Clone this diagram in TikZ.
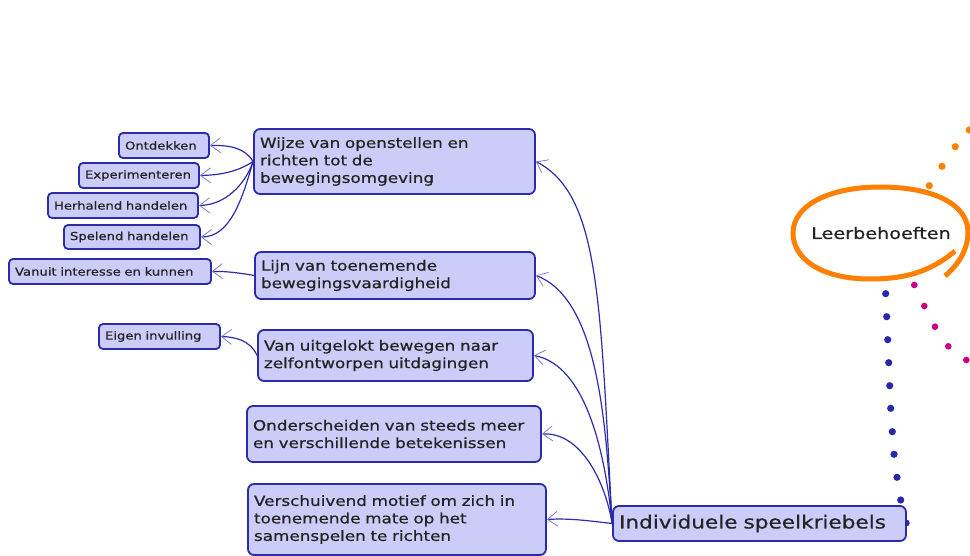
\documentclass[tikz,border=0pt]{standalone}
\usepackage{fontspec}
\setmainfont{DejaVu Sans}[FakeStretch=1.2,FakeBold=0.6]
\usetikzlibrary{arrows.meta}

\definecolor{boxfill}{RGB}{204,204,248}
\definecolor{boxline}{RGB}{44,44,170}
\definecolor{tipcol}{RGB}{125,125,215}
\definecolor{dotblue}{RGB}{40,40,170}
\definecolor{dotpink}{RGB}{200,0,130}
\definecolor{dotorange}{RGB}{255,128,0}
\definecolor{txt}{RGB}{35,35,35}

\tikzset{
  topic/.style={draw=boxline, fill=boxfill, line width=1.8pt, rounded corners=6pt, text=txt,
    align=left, inner xsep=6pt, inner ysep=3pt, font=\fontsize{14}{17.5}\selectfont},
  leaf/.style={topic, rounded corners=4pt, font=\fontsize{11}{13}\selectfont},
  link/.style={draw=boxline, line width=1.2pt,
    -{Straight Barb[length=10pt,width=15pt,line width=0.8pt,color=tipcol]}},
  bdot/.style={fill=dotblue},
  pdot/.style={fill=dotpink},
  odot/.style={fill=dotorange}
}

\begin{document}
\begin{tikzpicture}[x=1pt,y=1pt,yscale=-1,xscale=1]
\useasboundingbox (0,0) rectangle (970,556);

%Shape: Dots blue
\fill[bdot] (885.7,293.7) circle (3.6);
\fill[bdot] (886.7,316.7) circle (3.6);
\fill[bdot] (887.7,339.7) circle (3.6);
\fill[bdot] (888.7,362.7) circle (3.6);
\fill[bdot] (889.7,385.7) circle (3.6);
\fill[bdot] (890.7,408.3) circle (3.6);
\fill[bdot] (892.3,431.7) circle (3.6);
\fill[bdot] (894,454.3) circle (3.6);
\fill[bdot] (897,477.3) circle (3.6);
\fill[bdot] (900.7,500) circle (3.6);
\fill[bdot] (906,523) circle (3.6);
%Shape: Dots magenta
\fill[pdot] (914.3,285) circle (3.3);
\fill[pdot] (924.3,306) circle (3.3);
\fill[pdot] (935,326.7) circle (3.3);
\fill[pdot] (948.3,346.3) circle (3.3);
\fill[pdot] (966.3,360) circle (3.3);
%Shape: Dots orange
\fill[odot] (929.3,185.7) circle (3.6);
\fill[odot] (942,166.3) circle (3.6);
\fill[odot] (955.3,146.7) circle (3.6);
\fill[odot] (969.3,130) circle (3.6);

%Shape: Hand drawn ellipse
\draw[dotorange, line width=5pt] (955,251) .. controls (930,272) and (905,279) .. (870,279)
  .. controls (820,279) and (793,258) .. (793,233)
  .. controls (793,205) and (830,187) .. (880,187)
  .. controls (935,187) and (968,205) .. (968,232)
  .. controls (968,250) and (958,265) .. (945,276);

% Text Node
\node[text=txt, font=\fontsize{16}{19}\selectfont] (leer) at (881,233) {Leerbehoeften};

% Main topics
\node[topic, text width=269pt, minimum height=65pt] (wijze) at (394.5,161.5) {Wijze van openstellen en\\richten tot de\\bewegingsomgeving};
\node[topic, text width=268pt, minimum height=47pt] (lijn) at (395,275.5) {Lijn van toenemende\\bewegingsvaardigheid};
\node[topic, text width=263pt, minimum height=51pt] (uitgelokt) at (395.5,355.5) {Van uitgelokt bewegen naar\\zelfontworpen uitdagingen};
\node[topic, text width=282pt, minimum height=56pt] (betekenis) at (394,434) {Onderscheiden van steeds meer\\en verschillende betekenissen};
\node[topic, text width=286pt, minimum height=71pt] (motief) at (397,519.5) {Verschuivend motief om zich in\\toenemende mate op het\\samenspelen te richten};
\node[topic, text width=281pt, minimum height=35pt, font=\fontsize{18}{21}\selectfont] (kriebels) at (759.5,523.5) {Individuele speelkriebels};

% Leaves
\node[leaf, text width=78pt, minimum height=25pt] (ontdekken) at (164,145.5) {Ontdekken};
\node[leaf, text width=108pt, minimum height=25pt] (experimenteren) at (139,175.5) {Experimenteren};
\node[leaf, text width=138pt, minimum height=25pt] (herhalend) at (123,205.5) {Herhalend handelen};
\node[leaf, text width=124pt, minimum height=24pt] (spelend) at (132,237) {Spelend handelen};
\node[leaf, text width=190pt, minimum height=25pt] (vanuit) at (110,271.5) {Vanuit interesse en kunnen};
\node[leaf, text width=109pt, minimum height=25pt] (eigen) at (159.5,336.5) {Eigen invulling};

% Links from the main topic
\draw[link] (kriebels.west) .. controls (600,300) and (600,195) .. (wijze.east);
\draw[link] (kriebels.west) .. controls (606,430) and (600,300) .. (lijn.east);
\draw[link] (kriebels.west) .. controls (605,450) and (585,365) .. (uitgelokt.east);
\draw[link] (kriebels.west) .. controls (605,480) and (580,432) .. (betekenis.east);
\draw[link] (kriebels.west) .. controls (590,521) and (570,518) .. (motief.east);

% Links to the leaves
\draw[link] (wijze.west) .. controls (245,148) and (230,145) .. (ontdekken.east);
\draw[link] (wijze.west) .. controls (240,170) and (225,175) .. (experimenteren.east);
\draw[link] (wijze.west) .. controls (245,185) and (225,205) .. (herhalend.east);
\draw[link] (wijze.west) .. controls (242,200) and (230,237) .. (spelend.east);
\draw[link] (lijn.west) .. controls (240,273) and (225,271) .. (vanuit.east);
\draw[link] (uitgelokt.west) .. controls (250,340) and (235,337) .. (eigen.east);

\end{tikzpicture}
\end{document}
